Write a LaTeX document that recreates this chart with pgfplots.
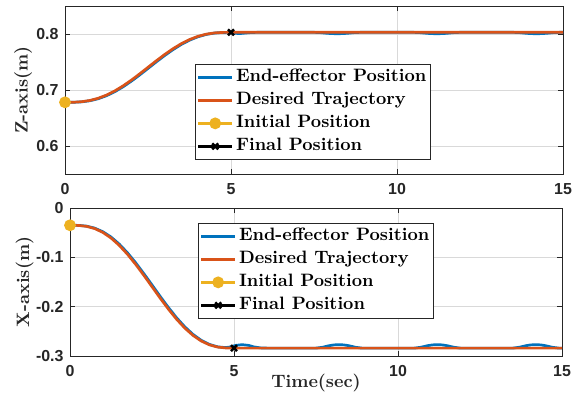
\documentclass[border=0pt]{standalone}
\usepackage{fontspec}
\usepackage{pgfplots}
\pgfplotsset{compat=1.18}
\newfontfamily\ticksf{Liberation Sans}
\newfontfamily\lmbx{lmroman10-bold}[Extension=.otf]
\definecolor{mblue}{rgb}{0,0.447,0.741}
\definecolor{morange}{rgb}{0.85,0.325,0.098}
\definecolor{myellow}{rgb}{0.929,0.694,0.125}
\definecolor{axgray}{rgb}{0.15,0.15,0.15}

\pgfplotstableread{
t z
0 0.678
0.25 0.67814
0.5 0.67907
0.75 0.68133
1 0.68524
1.25 0.69094
1.5 0.69839
1.75 0.70740
2 0.71768
2.25 0.72886
2.5 0.74050
2.75 0.75214
3 0.76332
3.25 0.77360
3.5 0.78262
3.75 0.79006
4 0.79576
4.25 0.79967
4.5 0.80193
4.75 0.80285
5 0.803
15 0.803
}\zdes

\pgfplotstableread{
t z
0 0.678
0.25 0.67807
0.5 0.67881
0.75 0.68081
1 0.68442
1.25 0.68981
1.5 0.69698
1.75 0.70574
2 0.71584
2.25 0.7269
2.5 0.7385
2.75 0.75018
3 0.76148
3.25 0.77194
3.5 0.78121
3.75 0.78893
4 0.79494
4.25 0.79915
4.5 0.80167
4.75 0.80278
4.9 0.8029
5.05 0.8018
5.25 0.8007
5.45 0.8018
5.6 0.8026
5.8 0.803
7.5 0.803
7.7 0.80241
7.9 0.80125
8.05 0.80068
8.2 0.8005
8.35 0.80068
8.5 0.80125
8.7 0.80241
8.9 0.803
10.5 0.803
10.7 0.80241
10.9 0.80125
11.05 0.80068
11.2 0.8005
11.35 0.80068
11.5 0.80125
11.7 0.80241
11.9 0.803
13.5 0.803
13.7 0.80241
13.9 0.80125
14.05 0.80068
14.2 0.8005
14.35 0.80068
14.5 0.80125
14.7 0.80241
14.9 0.803
15 0.803
}\zact

\pgfplotstableread{
t x
0 -0.035
0.25 -0.03529
0.5 -0.03713
0.75 -0.04163
1 -0.04942
1.25 -0.06078
1.5 -0.07561
1.75 -0.09356
2 -0.11404
2.25 -0.13631
2.5 -0.15950
2.75 -0.18269
3 -0.20496
3.25 -0.22544
3.5 -0.24339
3.75 -0.25822
4 -0.26958
4.25 -0.27737
4.5 -0.28187
4.75 -0.28371
5 -0.284
15 -0.284
}\xdes

\pgfplotstableread{
t x
0 -0.035
0.25 -0.03519
0.5 -0.03668
0.75 -0.04073
1 -0.04802
1.25 -0.05878
1.5 -0.07311
1.75 -0.09066
2 -0.11084
2.25 -0.13291
2.5 -0.15600
2.75 -0.17929
3 -0.20176
3.25 -0.22254
3.5 -0.24089
3.75 -0.25622
4 -0.26818
4.25 -0.27647
4.5 -0.28142
4.75 -0.2830
4.9 -0.2815
5.05 -0.2785
5.25 -0.2770
5.45 -0.2785
5.6 -0.2815
5.8 -0.2835
6.0 -0.284
7.5 -0.284
7.7 -0.28225
7.9 -0.2791
8.05 -0.27749
8.2 -0.277
8.35 -0.27749
8.5 -0.2791
8.7 -0.28225
8.9 -0.284
10.5 -0.284
10.7 -0.28225
10.9 -0.2791
11.05 -0.27749
11.2 -0.277
11.35 -0.27749
11.5 -0.2791
11.7 -0.28225
11.9 -0.284
13.5 -0.284
13.7 -0.28225
13.9 -0.2791
14.05 -0.27749
14.2 -0.277
14.35 -0.27749
14.5 -0.2791
14.7 -0.28225
14.9 -0.284
15 -0.284
}\xact

\pgfplotsset{
  mystyle/.style={
    scale only axis,
    clip=false,
    xmin=0, xmax=15,
    xtick={0,5,10,15},
    xticklabels={0,5,10,15},
    grid=major,
    major grid style={black!15, line width=0.7bp},
    axis line style={axgray, line width=0.8bp},
    tick style={axgray, line width=0.8bp},
    tick align=inside,
    major tick length=5bp,
    ticklabel style={font=\ticksf\bfseries\fontsize{16}{19}\selectfont, text=axgray},
    xticklabel style={yshift=-6bp},
    yticklabel style={xshift=-3bp},
    /pgf/number format/assume math mode=true,
    label style={font=\lmbx\fontsize{18}{22}\selectfont, text=axgray},
    legend cell align=left,
    legend style={draw=axgray, line width=0.8bp, fill=white,
      font=\lmbx\fontsize{18}{22}\selectfont, text=black,
      inner sep=1.5bp, row sep=0pt,
      nodes={inner sep=2.5bp, text height=13.5bp, text depth=4.5bp}},
    legend image code/.code={\draw[mark repeat=2,mark phase=2] plot coordinates {(0bp,0bp) (17bp,0bp) (34bp,0bp)};},
    blueline/.style={color=mblue, line width=2.7bp, no markers},
    orangeline/.style={color=morange, line width=2.7bp, no markers},
    initpt/.style={color=myellow, line width=2.7bp, mark=*, mark size=4.5bp, mark options={solid, fill=myellow}},
    finalpt/.style={color=black, line width=2.7bp, mark=x, mark size=4.2bp, mark options={solid, line width=2.5bp}},
  },
}

\begin{document}
\begin{tikzpicture}
\useasboundingbox (0,0) rectangle (577bp,-403bp);

\begin{axis}[mystyle,
  at={(65bp,-6bp)}, anchor=north west,
  width=498bp, height=168bp,
  ymin=0.55, ymax=0.85,
  ytick={0.6,0.7,0.8},
  yticklabels={0.6,0.7,0.8},
  ylabel={Z-axis(m)},
  ylabel style={at={(axis description cs:-0.084,0.5)}, anchor=center},
  legend style={at={(0.261,0.655)}, anchor=north west},
]
\addplot[blueline] table[x=t,y=z] {\zact};
\addlegendentry{End-effector Position}
\addplot[orangeline] table[x=t,y=z] {\zdes};
\addlegendentry{Desired Trajectory}
\addplot[initpt] coordinates {(0,0.678)};
\addlegendentry{Initial Position}
\addplot[finalpt] coordinates {(5,0.803)};
\addlegendentry{Final Position}
\end{axis}

\begin{axis}[mystyle,
  at={(70bp,-208bp)}, anchor=north west,
  width=492bp, height=148bp,
  ymin=-0.3, ymax=0,
  ytick={-0.3,-0.2,-0.1,0},
  yticklabels={-0.3,-0.2,-0.1,0},
  ylabel={X-axis(m)},
  ylabel style={at={(axis description cs:-0.092,0.5)}, anchor=center},
  xlabel={Time(sec)},
  xlabel style={at={(axis description cs:0.5,-0.182)}, anchor=center},
  legend style={at={(0.26,0.899)}, anchor=north west},
]
\addplot[blueline] table[x=t,y=x] {\xact};
\addlegendentry{End-effector Position}
\addplot[orangeline] table[x=t,y=x] {\xdes};
\addlegendentry{Desired Trajectory}
\addplot[initpt] coordinates {(0,-0.035)};
\addlegendentry{Initial Position}
\addplot[finalpt] coordinates {(5,-0.284)};
\addlegendentry{Final Position}
\end{axis}
\end{tikzpicture}
\end{document}
